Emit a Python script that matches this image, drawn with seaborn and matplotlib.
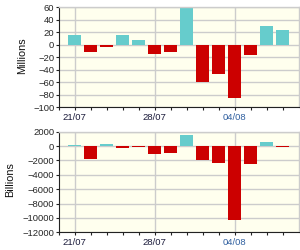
import matplotlib
matplotlib.use("Agg")
import matplotlib.pyplot as plt
import seaborn as sns
import pandas as pd
import numpy as np

dates = ["21/07", "22/07", "23/07", "24/07", "25/07", "28/07", "29/07",
         "30/07", "31/07", "01/08", "04/08", "05/08", "06/08", "07/08"]
millions = [15, -12, -3, 15, 7, -14, -12, 60, -59, -46, -85, -16, 30, 24]
billions = [150, -1830, 330, -280, -150, -1130, -990, 1550, -1970, -2390,
            -10280, -2540, 610, -150]
labeled_dates = ["21/07", "28/07", "04/08"]

TEAL = "#66CCCC"
RED = "#CC0000"
BG = "#FFFFEE"
GRID = "#CCCCCC"

sns.set_theme(style="white")
plt.rcParams["font.family"] = ["Liberation Sans", "DejaVu Sans"]

fig = plt.figure(figsize=(3, 2.5), dpi=100)
ax1 = fig.add_axes([0.195, 0.5708, 0.80, 0.40])
ax2 = fig.add_axes([0.195, 0.0708, 0.80, 0.4024])


def draw(ax, values, ylim, step, label, labx):
    df = pd.DataFrame({"date": dates, "value": values,
                       "sign": ["pos" if v >= 0 else "neg" for v in values]})
    sns.barplot(data=df, x="date", y="value", hue="sign",
                palette={"pos": TEAL, "neg": RED}, dodge=False,
                width=0.82, legend=False, ax=ax, saturation=1,
                linewidth=0, edgecolor="none")
    ax.set_facecolor(BG)
    ax.set_xlim(-1, len(dates))
    ax.set_ylim(*ylim)
    ax.set_yticks(np.arange(ylim[0], ylim[1] + 1, step))
    major = [dates.index(d) for d in labeled_dates]
    ax.set_xticks(major)
    ax.set_xticklabels(labeled_dates)
    ax.set_xticks([i for i in range(-1, len(dates)) if i not in major], minor=True)
    ax.grid(True, axis="both", which="major", color=GRID, linewidth=1)
    ax.set_axisbelow(True)
    for s in ["top", "right"]:
        ax.spines[s].set_color(GRID)
        ax.spines[s].set_linewidth(1)
    for s in ["left", "bottom"]:
        ax.spines[s].set_color("#222222")
        ax.spines[s].set_linewidth(0.8)
    ax.tick_params(axis="x", which="both", direction="out", length=2.5,
                   width=0.8, color="#222222", pad=1.5, labelsize=6.8,
                   bottom=True)
    ax.tick_params(axis="y", which="both", direction="out", length=2,
                   width=0.8, color="#222222", pad=1, labelsize=6.8, left=True)
    for t in ax.get_xticklabels():
        t.set_color("#2f5f9f" if t.get_text() == "04/08" else "#1a1a3a")
    ax.set_xlabel("")
    ax.set_ylabel(label, fontsize=7.8, va="center", color="#111111")
    ax.yaxis.set_label_coords(labx, 0.52)


draw(ax1, millions, (-100, 60), 20, "Millions", -0.152)
draw(ax2, billions, (-12000, 2000), 2000, "Billions", -0.202)

fig.savefig("out.png", dpi=100)
